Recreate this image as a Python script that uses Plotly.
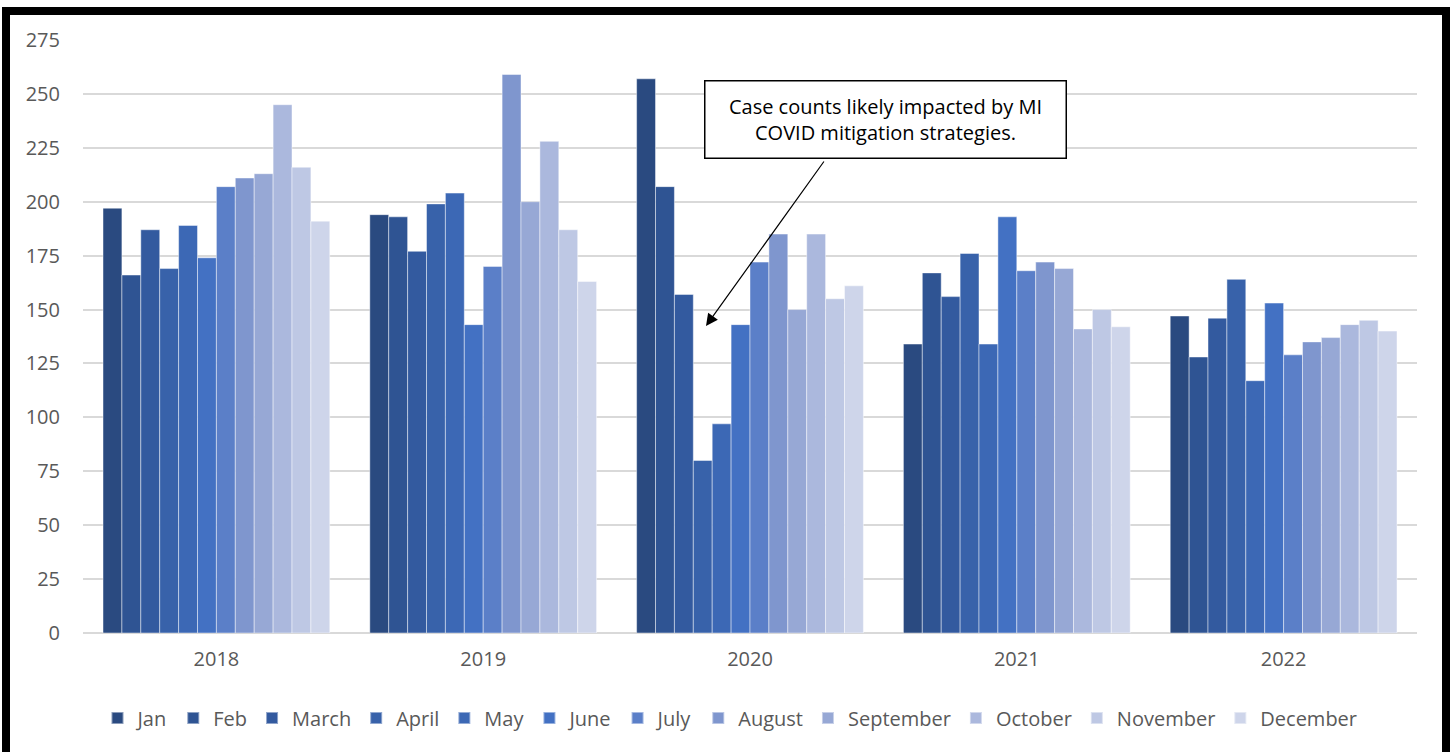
import plotly.graph_objects as go

years = ["2018", "2019", "2020", "2021", "2022"]
months = ["Jan", "Feb", "March", "April", "May", "June", "July", "August",
          "September", "October", "November", "December"]

# values[month][year]
jan = [197, 194, 257, 134, 147]
feb = [166, 193, 207, 167, 128]
mar = [187, 177, 157, 156, 146]
apr = [169, 199, 80, 176, 164]
may = [189, 204, 97, 134, 117]
jun = [174, 143, 143, 193, 153]
jul = [207, 170, 172, 168, 129]
aug = [211, 259, 185, 172, 135]
sep = [213, 200, 150, 169, 137]
oct_ = [245, 228, 185, 141, 143]
nov = [216, 187, 155, 150, 145]
dec = [191, 163, 161, 142, 140]
series = [jan, feb, mar, apr, may, jun, jul, aug, sep, oct_, nov, dec]

colors = ["#2a4a80", "#2f5493", "#335a9f", "#3862aa", "#3c68b5", "#4371c3",
          "#5b7fc8", "#7f96ce", "#97a8d5", "#abb8dd", "#bec8e4", "#ced5ea"]

y_ticks = [0, 25, 50, 75, 100, 125, 150, 175, 200, 225, 250, 275]

FONT = "'Open Sans', sans-serif"

fig = go.Figure()
for name, vals, col in zip(months, series, colors):
    fig.add_trace(go.Bar(
        x=years, y=vals, name=name,
        marker=dict(color=col, line=dict(color="rgba(255,255,255,0.45)", width=1)),
    ))

ML, MR, MT, MB = 83, 38, 40, 119
W, H = 1455, 752
PW, PH = W - ML - MR, H - MT - MB

def px(x):
    return (x - ML) / PW

def py(y):
    return (H - MB - y) / PH

fig.update_layout(
    width=W, height=H,
    margin=dict(l=ML, r=MR, t=MT, b=MB),
    paper_bgcolor="white", plot_bgcolor="white",
    barmode="group", bargap=0.15, bargroupgap=0,
    font=dict(family=FONT, size=20, color="#595959"),
    showlegend=True,
    legend=dict(orientation="h", x=px(730), xanchor="center", y=py(718), yanchor="middle",
                font=dict(size=20, color="#595959"), itemsizing="constant",
                traceorder="normal", itemwidth=30),
    xaxis=dict(showgrid=False, showline=False, ticks="", ticklabelstandoff=12,
               tickfont=dict(size=20, color="#595959")),
    yaxis=dict(range=[0, 275], tickvals=y_ticks, showgrid=True, gridcolor="#d9d9d9",
               gridwidth=1.5, zeroline=True, zerolinecolor="#d9d9d9", zerolinewidth=1.5,
               showline=False, ticks="", ticklabelstandoff=22,
               tickfont=dict(size=20, color="#595959")),
)

# annotation box
fig.add_annotation(
    xref="paper", yref="paper", x=px(885.5), y=py(119), xanchor="center", yanchor="middle",
    text="Case counts likely impacted by MI<br>COVID mitigation strategies.",
    showarrow=False, font=dict(family=FONT, size=20, color="black"),
    bgcolor="white", bordercolor="black", borderwidth=1.5,
    width=358, height=74, align="center",
)
# arrow
fig.add_annotation(
    xref="paper", yref="paper", x=px(706), y=py(326),
    ax=825 - 706, ay=160 - 326, axref="pixel", ayref="pixel",
    text="", showarrow=True, arrowhead=2, arrowsize=2, arrowwidth=1.2,
    arrowcolor="black", standoff=0,
)

# outer black frame
fig.add_shape(type="rect", xref="paper", yref="paper",
              x0=px(6), x1=px(1446), y0=py(780), y1=py(11),
              line=dict(color="black", width=8), fillcolor="rgba(0,0,0,0)", layer="above")

fig.write_html("out.html", config={"displayModeBar": False},
               post_script="document.body.style.margin='0';document.body.style.padding='0';")
